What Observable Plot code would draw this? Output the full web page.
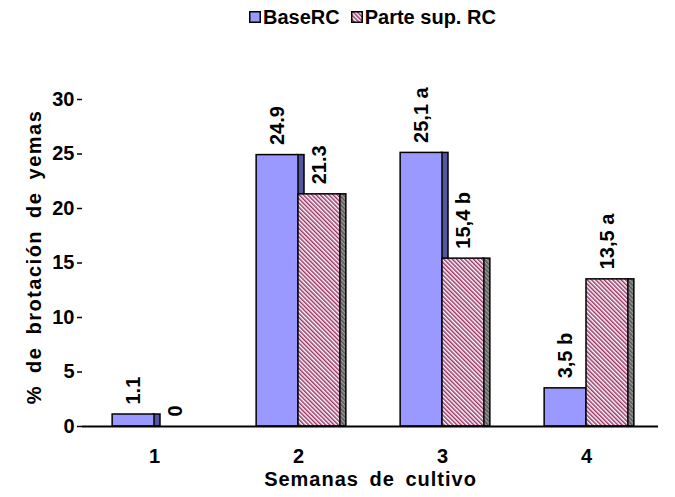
<!DOCTYPE html>
<html>
<head>
<meta charset="utf-8">
<script src="https://cdn.jsdelivr.net/npm/d3@7"></script>
<script src="https://cdn.jsdelivr.net/npm/@observablehq/plot@0.6"></script>
<style>
  html, body { margin: 0; padding: 0; background: #fff; }
  body { width: 675px; height: 497px; position: relative; overflow: hidden; font-family: "Liberation Sans", Arial, sans-serif; }
  #legend { position: absolute; left: 249px; top: 5px; height: 24px; display: flex; align-items: center; font-weight: bold; font-size: 20px; color: #000; white-space: nowrap; }
  #legend .sw { display: inline-block; width: 12px; height: 12px; margin-right: 2px; }
  #legend .item { display: flex; align-items: center; margin-right: 11px; }
  #chart { position: absolute; left: 0; top: 28px; }
</style>
</head>
<body>
<svg width="0" height="0" style="position:absolute">
  <defs>
    <pattern id="hatch" patternUnits="userSpaceOnUse" width="3" height="3" patternTransform="rotate(-45)">
      <rect width="3" height="3" fill="#ffffff"></rect>
      <rect width="1.5" height="3" fill="#993366"></rect>
    </pattern>
    <pattern id="hatchSide" patternUnits="userSpaceOnUse" width="3" height="3" patternTransform="rotate(-45)">
      <rect width="3" height="3" fill="#9a9a9a"></rect>
      <rect width="1.5" height="3" fill="#555555"></rect>
    </pattern>
  </defs>
</svg>
<div id="legend"></div>
<div id="chart"></div>
<script>
// ---- data ----
const weeks = [1, 2, 3, 4];
const seriesNames = ["BaseRC", "Parte sup. RC"];
const baseValues = [1.1, 24.9, 25.1, 3.5];
const parteValues = [0, 21.3, 15.4, 13.5];
const baseLabels = ["1.1", "24.9", "25,1 a", "3,5 b"];
const parteLabels = ["0", "21.3", "15,4 b", "13,5 a"];
const yTicks = [0, 5, 10, 15, 20, 25, 30];
const xTitle = "Semanas de cultivo";
const yTitle = "% de brotación de yemas";

const seriesFill = {"BaseRC": "#9999ff", "Parte sup. RC": "url(#hatch)"};
const seriesSide = {"BaseRC": "#55559f", "Parte sup. RC": "url(#hatchSide)"};

const data = weeks.flatMap((w, i) => [
  {week: w, series: seriesNames[0], value: baseValues[i], label: baseLabels[i]},
  {week: w, series: seriesNames[1], value: parteValues[i], label: parteLabels[i]}
]);
const base = data.filter(d => d.series === seriesNames[0]);
const parte = data.filter(d => d.series === seriesNames[1]);

// ---- legend ----
const legend = document.getElementById("legend");
seriesNames.forEach(s => {
  const item = document.createElement("span");
  item.className = "item";
  item.innerHTML = `<svg class="sw" width="12" height="12"><rect x="0.75" y="0.75" width="10.5" height="10.5" fill="${seriesFill[s]}" stroke="#000" stroke-width="1.5"></rect></svg>`;
  const t = document.createElement("span");
  t.textContent = s;
  item.appendChild(t);
  legend.appendChild(item);
});

const font = {fontSize: 20, fontWeight: "bold"};

const barStyle = {fx: "week", x: "series", y: "value", stroke: "#000", strokeWidth: 1.5};

const chart = Plot.plot({
  width: 675,
  height: 469,
  marginLeft: 82,
  marginRight: 17,
  marginTop: 71,
  marginBottom: 71,
  style: {fontFamily: "Liberation Sans, Arial, sans-serif", color: "#000", background: "#fff"},
  fx: {domain: weeks, padding: 0, axis: null, label: null},
  x: {domain: seriesNames, paddingInner: 0, paddingOuter: 0.72, round: false, axis: null},
  y: {domain: [0, 30], axis: null},
  marks: [
    // bars: base side, base face, parte side, parte face
    Plot.barY(base, {...barStyle, fill: d => seriesSide[d.series], insetLeft: 35, dx: 6}),
    Plot.barY(base, {...barStyle, fill: d => seriesFill[d.series]}),
    Plot.barY(parte, {...barStyle, fill: d => seriesSide[d.series], insetLeft: 35, dx: 6}),
    Plot.barY(parte, {...barStyle, fill: d => seriesFill[d.series]}),
    // value labels
    Plot.text(data, {fx: "week", x: "series", y: "value", text: "label", rotate: -90, textAnchor: "start", lineAnchor: "middle", dy: -10, fill: "#000", ariaLabel: "values", ...font}),
    // x axis line and category boundary ticks
    Plot.ruleY([0], {stroke: "#000", strokeWidth: 2}),
    Plot.ruleX(weeks, {fx: d => d, y1: 0, y2: 0, insetBottom: -6, dx: 72, stroke: "#000", strokeWidth: 1.5}),
    // y axis line
    Plot.ruleX([1], {fx: d => d, y1: 0, y2: 30, dx: -72, stroke: "#000", strokeWidth: 2}),
    Plot.axisY({ticks: yTicks, tickSize: 5, tickPadding: 3, tickFormat: d => String(d), label: null, ...font, strokeWidth: 1.5}),
    Plot.text([{w: 1, t: yTitle}], {fx: "w", text: "t", frameAnchor: "left", rotate: -90, dx: -48, dy: -6, textAnchor: "middle", fill: "#000", ...font}),
    Plot.axisFx({anchor: "bottom", tickSize: 0, tickPadding: 22, label: xTitle, labelAnchor: "center", labelOffset: 59, ...font})
  ]
});
document.getElementById("chart").appendChild(chart);

// letter spacing like the original rendering
const svg = d3.select(chart);
svg.selectAll('[aria-label="values"] text').style("letter-spacing", "1px");
svg.selectAll("text").each(function() {
  if (this.textContent === xTitle) {
    this.style.letterSpacing = "1px";
    this.style.wordSpacing = "4px";
  } else if (this.textContent === yTitle) {
    this.style.letterSpacing = "1.5px";
    this.style.wordSpacing = "5px";
  }
});
</script>
</body>
</html>
